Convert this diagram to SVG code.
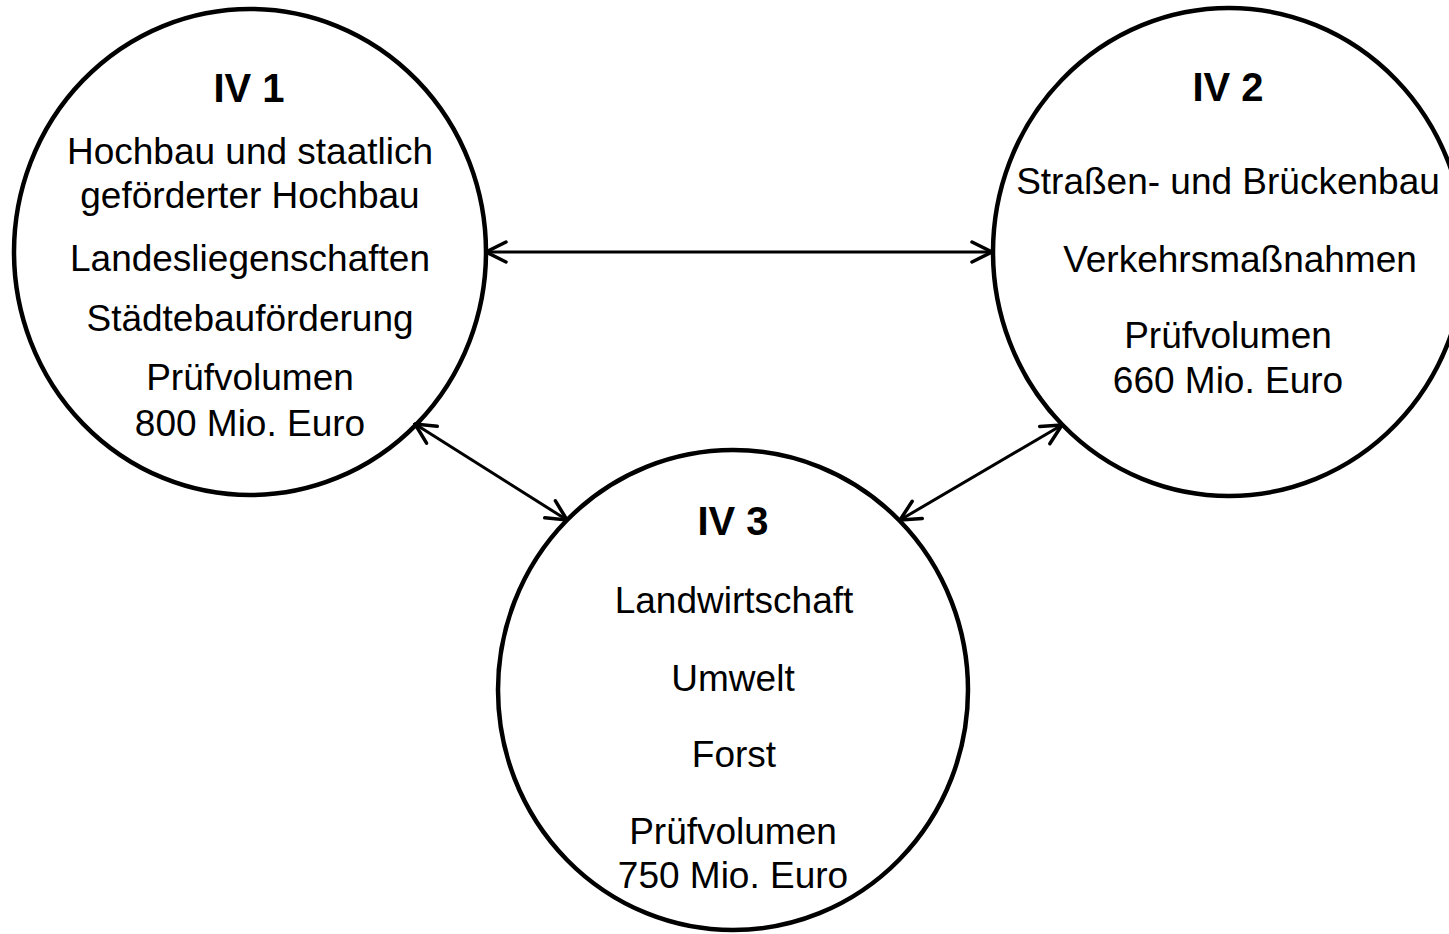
<svg xmlns="http://www.w3.org/2000/svg" width="1449" height="934" viewBox="0 0 1449 934">
  <style>
    .node { fill: #ffffff; stroke: #000000; stroke-width: 4.5; }
    .t { font-family: "Liberation Sans", Arial, sans-serif; font-size: 37px; fill: #000000; text-anchor: middle; }
    .h { font-family: "Liberation Sans", Arial, sans-serif; font-size: 40px; font-weight: bold; fill: #000000; text-anchor: middle; }
    .conn { stroke: #000000; stroke-width: 3; fill: none; marker-start: url(#arr); marker-end: url(#arr); }
  </style>
  <defs>
    <marker id="arr" viewBox="-24 -13 26 26" refX="0" refY="0" markerWidth="26" markerHeight="26" markerUnits="userSpaceOnUse" orient="auto-start-reverse">
      <path d="M-20,-10 L0,0 L-20,10" fill="none" stroke="#000000" stroke-width="3.5" stroke-linecap="round" stroke-linejoin="miter"/>
    </marker>
  </defs>
  <rect width="1449" height="934" fill="#ffffff"/>
  <g id="node-iv1">
    <ellipse class="node" cx="250" cy="252" rx="236" ry="243"/>
    <text class="h" x="249" y="102">IV 1</text>
    <text class="t" x="250" y="164">Hochbau und staatlich</text>
    <text class="t" x="250" y="208">geförderter Hochbau</text>
    <text class="t" x="250" y="271">Landesliegenschaften</text>
    <text class="t" x="250" y="331">Städtebauförderung</text>
    <text class="t" x="250" y="390">Prüfvolumen</text>
    <text class="t" x="250" y="436">800 Mio. Euro</text>
  </g>
  <g id="node-iv2">
    <ellipse class="node" cx="1229" cy="252" rx="236" ry="244"/>
    <text class="h" x="1228" y="101">IV 2</text>
    <text class="t" x="1228" y="194">Straßen- und Brückenbau</text>
    <text class="t" x="1240" y="272">Verkehrsmaßnahmen</text>
    <text class="t" x="1228" y="348">Prüfvolumen</text>
    <text class="t" x="1228" y="393">660 Mio. Euro</text>
  </g>
  <g id="node-iv3">
    <ellipse class="node" cx="733" cy="690" rx="235" ry="240"/>
    <text class="h" x="733" y="535">IV 3</text>
    <text class="t" x="734" y="613">Landwirtschaft</text>
    <text class="t" x="733" y="691">Umwelt</text>
    <text class="t" x="734" y="767">Forst</text>
    <text class="t" x="733" y="844">Prüfvolumen</text>
    <text class="t" x="733" y="888">750 Mio. Euro</text>
  </g>
  <g id="connectors">
    <line class="conn" x1="486" y1="252" x2="992" y2="252"/>
    <line class="conn" x1="415" y1="424" x2="567" y2="520"/>
    <line class="conn" x1="1062" y1="425" x2="900" y2="520"/>
  </g>
</svg>
